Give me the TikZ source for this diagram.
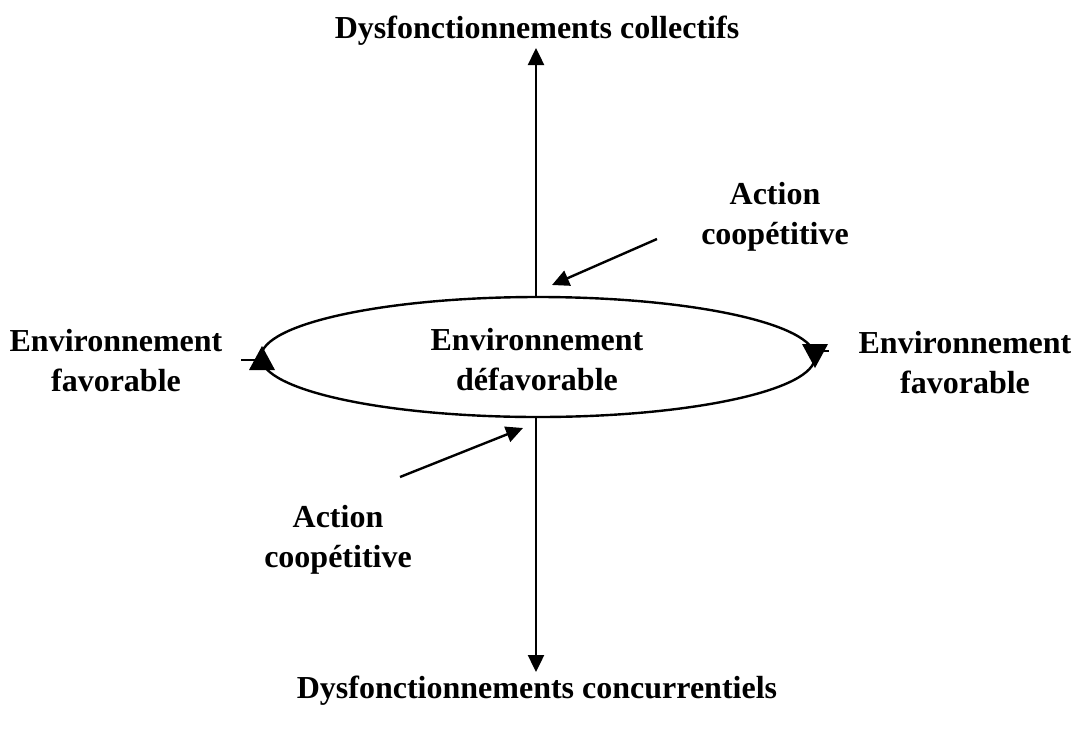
\documentclass[tikz,border=0pt]{standalone}
\usepackage{fontspec}
\setmainfont{Liberation Serif}
\usetikzlibrary{arrows.meta,shapes.geometric}
\begin{document}
\begin{tikzpicture}[x=1pt,y=-1pt,
  lbl/.style={font=\fontsize{32}{40}\selectfont\bfseries, align=center, inner sep=0pt},
  ln/.style={line width=2.4pt},
  arr/.style={ln, -{Triangle[length=17pt,width=16pt]}},
  tip/.style={fill=black}]
\useasboundingbox (0,0) rectangle (1075,731);
\node[ellipse, draw, ln, minimum width=554pt, minimum height=120pt, inner sep=0pt] (env) at (538,357) {};
\node[lbl] (envtxt) at (537,360) {Environnement\\défavorable};
\node[lbl] (top) at (537,31) {Dysfonctionnements collectifs};
\node[lbl] (bot) at (537,691) {Dysfonctionnements concurrentiels};
\node[lbl] (left) at (116,361) {Environnement\\favorable};
\node[lbl] (right) at (965,363) {Environnement\\favorable};
\node[lbl] (act1) at (775,217) {Action\\coopétitive};
\node[lbl] (act2) at (338,540) {Action\\coopétitive};
\coordinate (ttip) at (536,48);
\coordinate (btip) at (536,672);
\coordinate (etop) at (536,297);
\coordinate (ebot) at (536,417);
\draw[arr] (etop) -- (ttip);
\draw[arr] (ebot) -- (btip);
\coordinate (a1s) at (657,239);
\coordinate (a1e) at (552,285);
\coordinate (a2s) at (400,477);
\coordinate (a2e) at (523,428);
\draw[arr] (a1s) -- (a1e);
\draw[arr] (a2s) -- (a2e);
% end markers of the ellipse
\coordinate (lt) at (262,346);
\coordinate (rt) at (815,368);
\fill[tip] (lt) -- ++(13,24) -- ++(-26,0) -- cycle;
\fill[tip] (rt) -- ++(13,-24) -- ++(-26,0) -- cycle;
\draw[ln] (lt) ++(0,14) -- ++(-21,0);
\draw[ln] (rt) ++(0,-17) -- ++(14,0);
\end{tikzpicture}
\end{document}
